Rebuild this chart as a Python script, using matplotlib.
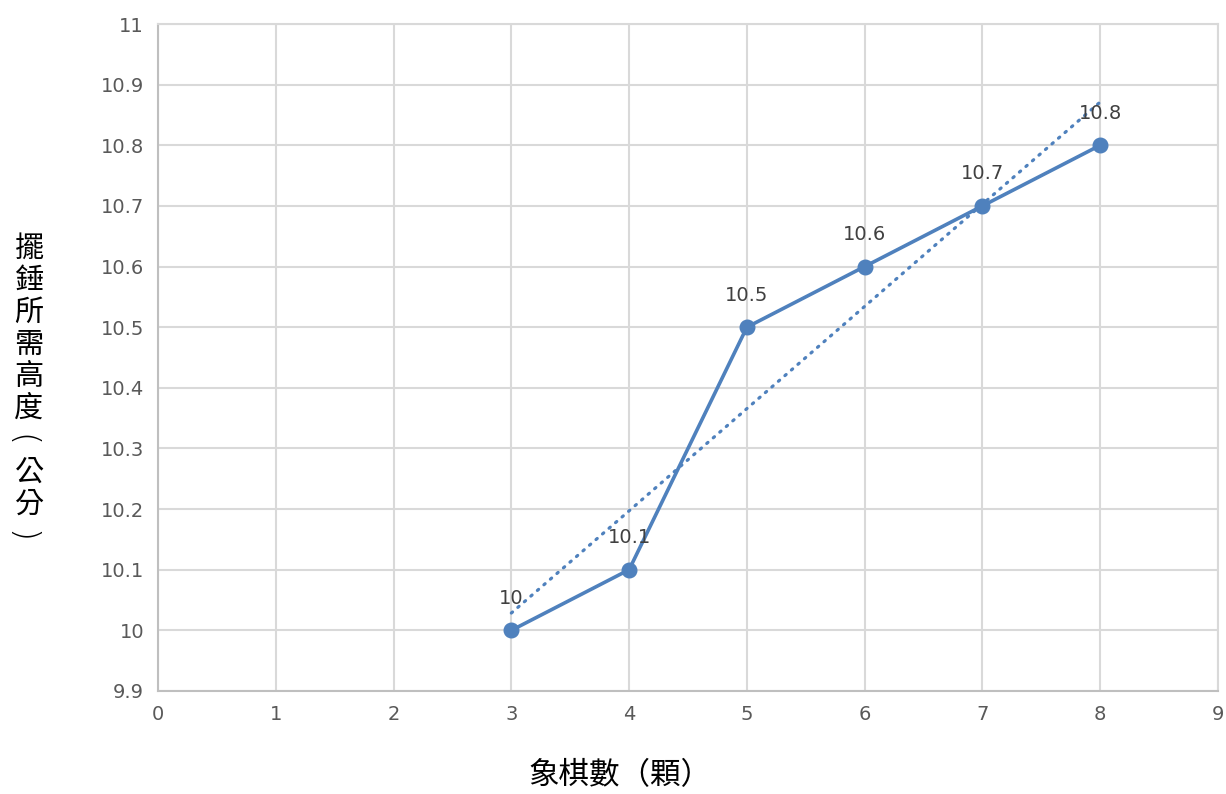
import numpy as np
import matplotlib.pyplot as plt

# data
pieces = [3, 4, 5, 6, 7, 8]
heights = [10.0, 10.1, 10.5, 10.6, 10.7, 10.8]
labels = ['10', '10.1', '10.5', '10.6', '10.7', '10.8']
xticks = list(range(0, 10))
yticks = [9.9, 10.0, 10.1, 10.2, 10.3, 10.4, 10.5, 10.6, 10.7, 10.8, 10.9, 11.0]
ytick_labels = ['9.9', '10', '10.1', '10.2', '10.3', '10.4', '10.5', '10.6',
                '10.7', '10.8', '10.9', '11']
xlabel = '象棋數（顆）'
ylabel = '擺錘所需高度（公分）'

blue = '#4F81BD'
grid = '#D9D9D9'
cjk = ['Noto Sans CJK TC', 'DejaVu Sans']

fig = plt.figure(figsize=(12.26, 7.94), dpi=100)
ax = fig.add_axes([158 / 1226, 1 - 691 / 794, 1060 / 1226, 667 / 794])

ax.set_xlim(0, 9)
ax.set_ylim(9.9, 11)
ax.set_xticks(xticks)
ax.set_yticks(yticks)
ax.set_yticklabels(ytick_labels)
ax.tick_params(length=0, labelsize=14, labelcolor='#595959', pad=10)
ax.grid(True, color=grid, linewidth=1.5)
ax.set_axisbelow(True)
for s in ax.spines.values():
    s.set_color(grid)
    s.set_linewidth(1.5)
ax.spines['left'].set_color('#BFBFBF')
ax.spines['bottom'].set_color('#BFBFBF')

# linear trendline
coef = np.polyfit(pieces, heights, 1)
tx = np.array([pieces[0], pieces[-1]])
ax.plot(tx, np.polyval(coef, tx), color=blue, linewidth=2.3,
        linestyle=(0, (0.5, 2.2)), dash_capstyle='round', zorder=2)

ax.plot(pieces, heights, color=blue, linewidth=2.6, marker='o',
        markersize=10.5, zorder=3)

for x, y, t in zip(pieces, heights, labels):
    ax.annotate(t, (x, y), xytext=(0, 23), textcoords='offset points',
                ha='center', va='center', fontsize=14, color='#404040')

fig.text(620 / 1226, 1 - 776 / 794, xlabel,
         ha='center', va='center', fontsize=22, family=cjk, color='#000000')

# vertical (stacked) y title, one char per row, brackets turned
brackets = {'（': '(', '）': ')'}
for i, ch in enumerate(ylabel):
    yy = 1 - (249 + 32 * i) / 794
    if ch in brackets:
        fig.text(21 / 1226, yy, brackets[ch], ha='center', va='center',
                 fontsize=24, family='DejaVu Sans', fontweight='light',
                 rotation=-90)
    else:
        fig.text(29 / 1226, yy, ch, ha='center', va='center',
                 fontsize=21, family=cjk)

plt.savefig('out.png')
